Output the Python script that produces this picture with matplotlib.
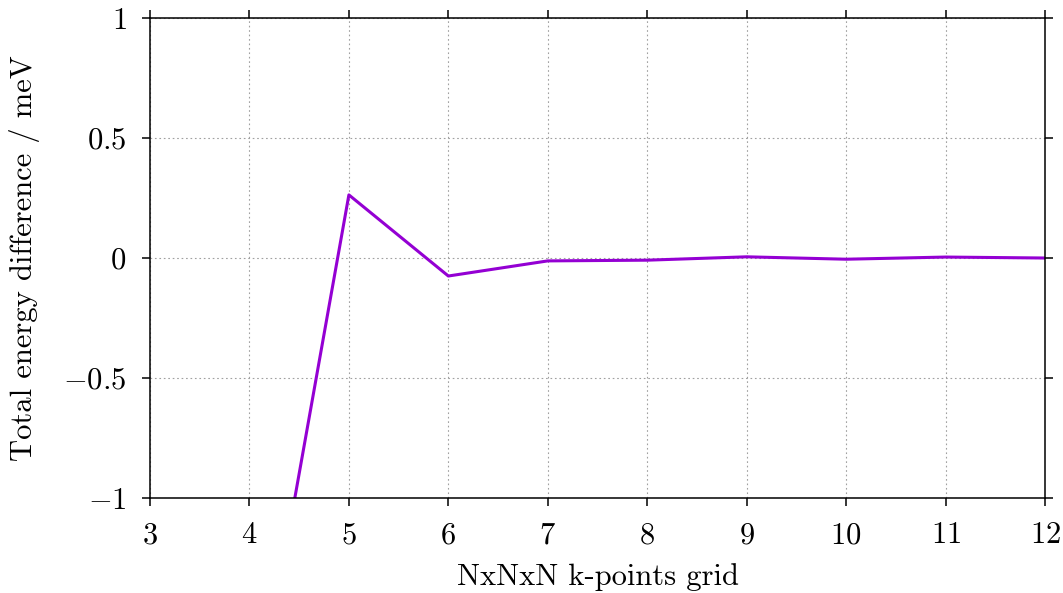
import matplotlib.pyplot as plt

plt.rcParams['font.family'] = 'cmr10'
plt.rcParams['mathtext.fontset'] = 'cm'
plt.rcParams['axes.formatter.use_mathtext'] = True

# k-point grid convergence data (values below -1 run off the plot)
kgrid = [3, 4, 5, 6, 7, 8, 9, 10, 11, 12]
de_mev = [-6.0, -2.06, 0.263, -0.075, -0.012, -0.009, 0.005, -0.005, 0.004, 0.0]

xticks = [3, 4, 5, 6, 7, 8, 9, 10, 11, 12]
yticks = [-1, -0.5, 0, 0.5, 1]
ytick_labels = [r'$-1$', r'$-0.5$', r'$0$', r'$0.5$', r'$1$']

fig = plt.figure(figsize=(10.63, 5.93), dpi=100)
ax = fig.add_axes([0.1411, 0.1602, 0.842, 0.8094])

ax.plot(kgrid, de_mev, color='#9400d3', linewidth=2.2)

ax.set_xlim(3, 12)
ax.set_ylim(-1, 1)
ax.set_xticks(xticks)
ax.set_xticklabels([r'$%d$' % t for t in xticks])
ax.set_yticks(yticks)
ax.set_yticklabels(ytick_labels)

ax.grid(True, linestyle=(0, (1.5, 2.5)), color='#a0a0a0', linewidth=0.8)
ax.tick_params(direction='out', length=6, width=1.1, labelsize=22,
               top=True, right=True, pad=11)
for s in ax.spines.values():
    s.set_linewidth(1.1)

ax.set_xlabel('NxNxN k-points grid', fontsize=22)
ax.set_ylabel('Total energy difference / meV', fontsize=22)
ax.xaxis.label.set_va('center')
ax.yaxis.label.set_va('center')
ax.xaxis.set_label_coords(0.5, -0.1646)
ax.yaxis.set_label_coords(-0.1397, 0.5)

fig.savefig('out.png', dpi=100)
